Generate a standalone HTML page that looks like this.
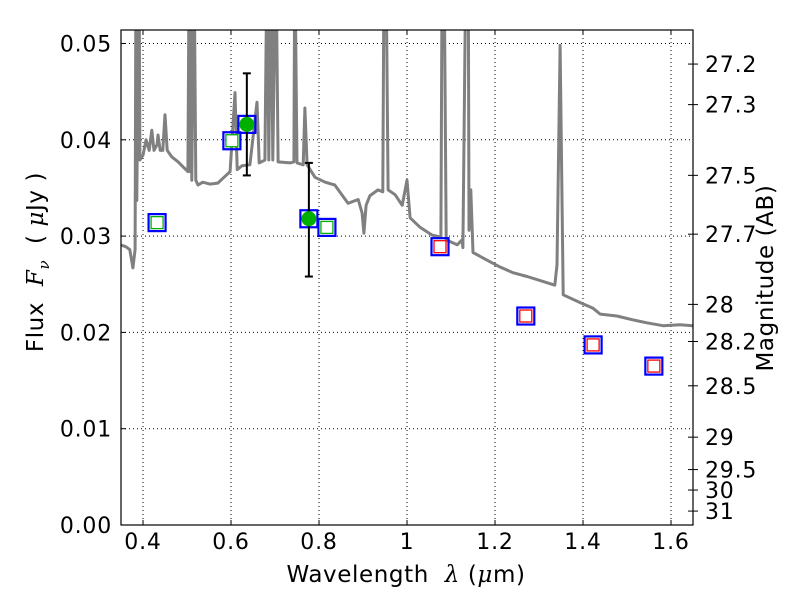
<!DOCTYPE html>
<html><head><meta charset="utf-8"><style>
body{margin:0;background:#fff;}
svg{display:block;font-family:"DejaVu Sans","Liberation Sans",sans-serif;}
</style></head><body>
<svg id="chart" width="800" height="600" viewBox="0 0 800 600"></svg>
<script>
const xTicks=[0.4,0.6,0.8,1.0,1.2,1.4,1.6];
const xTickLabels=["0.4","0.6","0.8","1","1.2","1.4","1.6"];
const yTicks=[0,0.01,0.02,0.03,0.04,0.05];
const yTickLabels=["0.00","0.01","0.02","0.03","0.04","0.05"];
const magTicks=[27.2,27.3,27.5,27.7,28,28.2,28.5,29,29.5,30,31];
const magTickLabels=["27.2","27.3","27.5","27.7","28","28.2","28.5","29","29.5","30","31"];
const specWave=[0.348,0.361,0.370,0.377,0.382,0.384,0.386,0.391,0.393,0.400,0.407,0.414,0.420,0.425,0.432,0.434,0.439,0.445,0.450,0.455,0.466,0.480,0.493,0.502,0.505,0.507,0.509,0.511,0.516,0.520,0.525,0.536,0.552,0.570,0.584,0.598,0.609,0.614,0.625,0.643,0.659,0.664,0.677,0.682,0.686,0.691,0.695,0.702,0.707,0.734,0.743,0.745,0.750,0.764,0.768,0.773,0.791,0.814,0.836,0.866,0.889,0.898,0.902,0.907,0.916,0.934,0.945,0.948,0.952,0.957,0.973,0.989,1.000,1.007,1.030,1.057,1.077,1.080,1.084,1.089,1.114,1.125,1.127,1.134,1.139,1.141,1.145,1.150,1.182,1.211,1.241,1.273,1.309,1.336,1.341,1.348,1.355,1.393,1.423,1.439,1.477,1.514,1.545,1.582,1.620,1.650];
const specFlux=[0.0291,0.0289,0.0286,0.0267,0.0286,0.06,0.0337,0.06,0.0379,0.0384,0.0400,0.0389,0.0410,0.0389,0.0395,0.0405,0.0389,0.0389,0.0426,0.0389,0.0382,0.0377,0.0371,0.0367,0.06,0.0367,0.06,0.0358,0.06,0.0358,0.0353,0.0356,0.0354,0.0355,0.0361,0.0367,0.0449,0.0369,0.0373,0.0374,0.0439,0.0376,0.0379,0.06,0.0379,0.06,0.0379,0.06,0.0377,0.0376,0.0377,0.06,0.0376,0.0374,0.0433,0.0374,0.0361,0.0356,0.0353,0.0334,0.0338,0.0324,0.0303,0.0332,0.0342,0.0348,0.0346,0.06,0.06,0.0348,0.0343,0.0332,0.0358,0.0319,0.0309,0.0301,0.0299,0.06,0.06,0.0296,0.0291,0.0296,0.0288,0.06,0.06,0.0306,0.0348,0.0283,0.0275,0.0268,0.0262,0.0258,0.0253,0.0249,0.0270,0.0498,0.0239,0.0231,0.0225,0.0219,0.0217,0.0213,0.0210,0.0207,0.0208,0.0207];
const photWaveGreen=[0.432,0.602,0.818];
const photFluxGreen=[0.0314,0.0399,0.0309];
const photWaveRed=[1.075,1.270,1.423,1.561];
const photFluxRed=[0.0289,0.0217,0.0187,0.0165];
const obsWave=[0.636,0.777];
const obsFlux=[0.0416,0.0318];
const obsErrHi=[0.0469,0.0376];
const obsErrLo=[0.0363,0.0258];

const L=121,R=693,T=30,B=525,X0=0.35,X1=1.65,Y0=0,Y1=0.0514;
const sx=v=>L+(v-X0)/(X1-X0)*(R-L);
const sy=v=>B-(v-Y0)/(Y1-Y0)*(B-T);
const magToFlux=m=>Math.pow(10,(23.9-m)/2.5);
const svg=document.getElementById('chart');
const NS='http://www.w3.org/2000/svg';
function mk(tag,attrs,parent){const e=document.createElementNS(NS,tag);for(const k in attrs)e.setAttribute(k,attrs[k]);(parent||svg).appendChild(e);return e;}

const defs=mk('defs',{});
const cp=mk('clipPath',{id:'plotclip'},defs);
mk('rect',{x:L,y:T,width:R-L,height:B-T},cp);

const grid=mk('g',{});


xTicks.forEach(v=>{mk('line',{x1:sx(v),x2:sx(v),y1:T,y2:B,stroke:'#000','stroke-width':1,'stroke-dasharray':'1,3'},grid);});
yTicks.forEach(v=>{mk('line',{x1:L,x2:R,y1:sy(v),y2:sy(v),stroke:'#000','stroke-width':1,'stroke-dasharray':'1,3'},grid);});

const specG=mk('g',{'clip-path':'url(#plotclip)'});


let d='';
specWave.forEach((w,i)=>{d+=(i?'L':'M')+sx(w).toFixed(1)+','+sy(specFlux[i]).toFixed(1);});
mk('path',{d:d,fill:'none',stroke:'#808080','stroke-width':3,'stroke-linejoin':'round'},specG);

const photG=mk('g',{});


function sq(w,f,inner){
  const x=sx(w),y=sy(f);
  const g=mk('g',{},photG);
  
  
  mk('rect',{x:x-8.5,y:y-8.5,width:17,height:17,fill:'none',stroke:'#0000ff','stroke-width':2.2},g);
  if(inner) mk('rect',{x:x-6,y:y-6,width:12,height:12,fill:'#fff',stroke:inner,'stroke-width':1.3},g);
}
photWaveGreen.forEach((w,i)=>sq(w,photFluxGreen[i],'#00b000'));
photWaveRed.forEach((w,i)=>sq(w,photFluxRed[i],'#ff0000'));
obsWave.forEach((w,i)=>sq(w,obsFlux[i],null));

const obsG=mk('g',{});


obsWave.forEach((w,i)=>{
  const x=sx(w);
  mk('line',{x1:x,x2:x,y1:sy(obsErrHi[i]),y2:sy(obsErrLo[i]),stroke:'#000','stroke-width':2},obsG);
  mk('line',{x1:x-4,x2:x+4,y1:sy(obsErrHi[i]),y2:sy(obsErrHi[i]),stroke:'#000','stroke-width':2},obsG);
  mk('line',{x1:x-4,x2:x+4,y1:sy(obsErrLo[i]),y2:sy(obsErrLo[i]),stroke:'#000','stroke-width':2},obsG);
  const c=mk('circle',{cx:x,cy:sy(obsFlux[i]),r:7.5,fill:'#00b000'},obsG);
  
  
});

const fr=mk('rect',{x:L,y:T,width:R-L,height:B-T,fill:'none',stroke:'#000','stroke-width':1.2});



const xa=mk('g',{});


xTicks.forEach((v,i)=>{
  mk('line',{x1:sx(v),x2:sx(v),y1:B,y2:B-5,stroke:'#000'},xa);
  mk('line',{x1:sx(v),x2:sx(v),y1:T,y2:T+5,stroke:'#000'},xa);
  const t=mk('text',{x:sx(v),y:B+24,'text-anchor':'middle','font-size':22,'letter-spacing':0.8},xa);t.textContent=xTickLabels[i];
});
const ya=mk('g',{});


yTicks.forEach((v,i)=>{
  mk('line',{x1:L,x2:L+5,y1:sy(v),y2:sy(v),stroke:'#000'},ya);
  const t=mk('text',{x:L-9,y:sy(v)+8,'text-anchor':'end','font-size':22,'letter-spacing':0.8},ya);t.textContent=yTickLabels[i];
});
const ra=mk('g',{});


magTicks.forEach((m,i)=>{
  const y=sy(magToFlux(m));
  mk('line',{x1:R,x2:R-5,y1:y,y2:y,stroke:'#000'},ra);
  mk('line',{x1:R,x2:R+5,y1:y,y2:y,stroke:'#000'},ra);
  const t=mk('text',{x:R+12,y:y+8,'font-size':22,'letter-spacing':0.8},ra);t.textContent=magTickLabels[i];
});
</script>
<div style="position:absolute;left:0;top:0;width:800px;height:600px;pointer-events:none;font-family:'DejaVu Sans','Liberation Sans',sans-serif;">
  <div style="position:absolute;left:406px;top:575px;font-size:23px;letter-spacing:0.6px;white-space:nowrap;transform:translate(-50%,-50%);">Wavelength &nbsp;<i style="font-family:'DejaVu Serif',serif;">λ</i> (<i style="font-family:'DejaVu Serif',serif;">μ</i>m)</div>
  <div style="position:absolute;left:38px;top:262px;font-size:23px;letter-spacing:0.6px;white-space:nowrap;transform:translate(-50%,-50%) rotate(-90deg);">Flux &nbsp;<i style="font-family:'DejaVu Serif',serif;">F<sub style="font-size:15px">ν</sub></i> &nbsp;( <i style="font-family:'DejaVu Serif',serif;">μ</i>Jy )</div>
  <div style="position:absolute;left:766px;top:278px;font-size:23px;letter-spacing:0.6px;white-space:nowrap;transform:translate(-50%,-50%) rotate(-90deg);">Magnitude (AB)</div>
</div>
</body></html>
